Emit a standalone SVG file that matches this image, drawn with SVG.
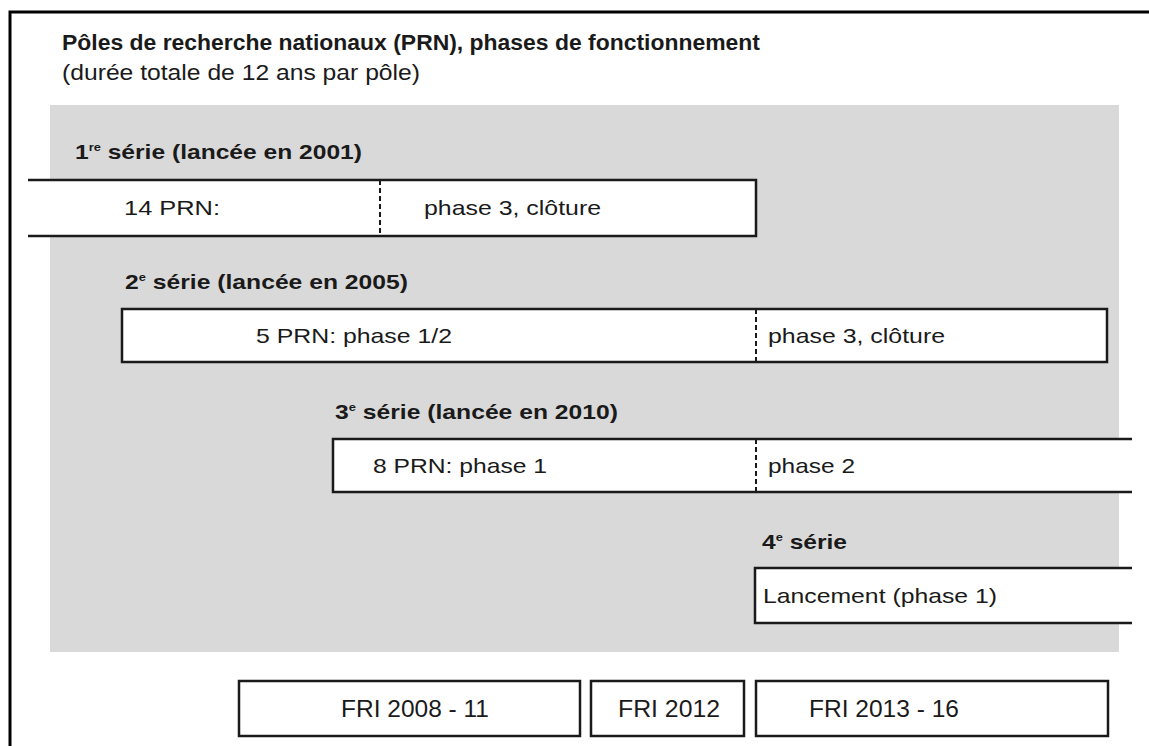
<svg xmlns="http://www.w3.org/2000/svg" width="1149" height="746" viewBox="0 0 1149 746">
<style>
text{font-family:"Liberation Sans",Arial,sans-serif;fill:#1a1a1a}
.t{font-size:22px;font-weight:bold}
.s{font-size:22px}
.l{font-size:21px;font-weight:bold}
.sup{font-size:11px}
.b{font-size:24px}
.line{stroke:#1a1a1a;stroke-width:2.5;fill:none}
.box{stroke:#1a1a1a;stroke-width:2.5;fill:#fff}
.dash{stroke:#1a1a1a;stroke-width:2;stroke-dasharray:5 3;fill:none}
.n{font-size:21px}
</style>
<rect width="1149" height="746" fill="#fff"/>
<path d="M10 746 V12 H1149" stroke="#000" stroke-width="3" fill="none"/>
<g id="title">
<text class="t" x="62" y="50" textLength="698" lengthAdjust="spacingAndGlyphs">Pôles de recherche nationaux (PRN), phases de fonctionnement</text>
<text class="s" x="62" y="80" textLength="358" lengthAdjust="spacingAndGlyphs">(durée totale de 12 ans par pôle)</text>
</g>
<rect id="bg" x="50" y="105" width="1069" height="547" fill="#d9d9d9"/>
<g id="serie1">
<text class="l" x="75" y="159" textLength="287" lengthAdjust="spacingAndGlyphs">1<tspan class="sup" dy="-8">re</tspan><tspan dy="8"> série (lancée en 2001)</tspan></text>
<rect x="28" y="180" width="728" height="56" fill="#fff"/>
<path class="line" d="M28 180 H756 V236 H28"/>
<path class="dash" d="M380 180 V236"/>
<text class="n" x="124" y="215" textLength="96" lengthAdjust="spacingAndGlyphs">14 PRN:</text>
<text class="n" x="424" y="215" textLength="177" lengthAdjust="spacingAndGlyphs">phase 3, clôture</text>
</g>
<g id="serie2">
<text class="l" x="125" y="289" textLength="283" lengthAdjust="spacingAndGlyphs">2<tspan class="sup" dy="-8">e</tspan><tspan dy="8"> série (lancée en 2005)</tspan></text>
<rect class="box" x="122" y="309" width="985" height="53"/>
<path class="dash" d="M756 309 V362"/>
<text class="n" x="256" y="343" textLength="196" lengthAdjust="spacingAndGlyphs">5 PRN: phase 1/2</text>
<text class="n" x="768" y="343" textLength="177" lengthAdjust="spacingAndGlyphs">phase 3, clôture</text>
</g>
<g id="serie3">
<text class="l" x="335" y="419" textLength="283" lengthAdjust="spacingAndGlyphs">3<tspan class="sup" dy="-8">e</tspan><tspan dy="8"> série (lancée en 2010)</tspan></text>
<rect x="333" y="439" width="799" height="53" fill="#fff"/>
<path class="line" d="M1132 439 H333 V492 H1132"/>
<path class="dash" d="M756 439 V492"/>
<text class="n" x="373" y="473" textLength="174" lengthAdjust="spacingAndGlyphs">8 PRN: phase 1</text>
<text class="n" x="768" y="473" textLength="87" lengthAdjust="spacingAndGlyphs">phase 2</text>
</g>
<g id="serie4">
<text class="l" x="762" y="549" textLength="85" lengthAdjust="spacingAndGlyphs">4<tspan class="sup" dy="-8">e</tspan><tspan dy="8"> série</tspan></text>
<rect x="755" y="568" width="377" height="55" fill="#fff"/>
<path class="line" d="M1132 568 H755 V623 H1132"/>
<text class="n" x="763" y="603" textLength="234" lengthAdjust="spacingAndGlyphs">Lancement (phase 1)</text>
</g>
<g id="fri1">
<rect class="box" x="239" y="681" width="341" height="55"/>
<text class="b" x="415" y="717" text-anchor="middle" textLength="148" lengthAdjust="spacingAndGlyphs">FRI 2008 - 11</text>
</g>
<g id="fri2">
<rect class="box" x="591" y="681" width="153" height="55"/>
<text class="b" x="669" y="717" text-anchor="middle" textLength="102" lengthAdjust="spacingAndGlyphs">FRI 2012</text>
</g>
<g id="fri3">
<rect class="box" x="756" y="681" width="352" height="55"/>
<text class="b" x="884" y="717" text-anchor="middle" textLength="150" lengthAdjust="spacingAndGlyphs">FRI 2013 - 16</text>
</g>
</svg>
